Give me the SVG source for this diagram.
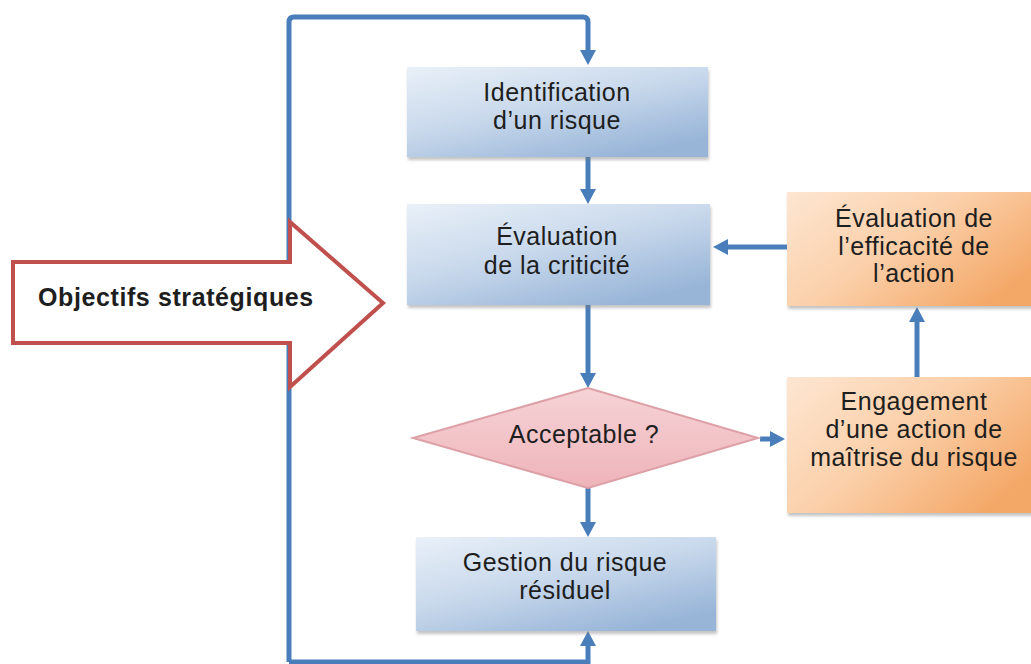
<svg xmlns="http://www.w3.org/2000/svg" width="1031" height="664" viewBox="0 0 1031 664">
  <style>
    .lbl { font-family: "Liberation Sans", Arial, sans-serif; font-size: 25px; letter-spacing: 0.5px; fill: #1e1e1e; text-anchor: middle; }
    .bold { font-weight: bold; text-anchor: start; letter-spacing: 0.6px; }
    .conn { fill: none; stroke: #4a7ebb; stroke-width: 5; marker-end: url(#ah); }
    .blue { fill: url(#gBlue); filter: url(#sh); }
    .orange { fill: url(#gOrange); filter: url(#sh); }
  </style>
  <defs>
    <linearGradient id="gBlue" x1="0" y1="0" x2="0.7" y2="1">
      <stop offset="0" stop-color="#e9f0f8"/>
      <stop offset="0.5" stop-color="#c9d9ec"/>
      <stop offset="1" stop-color="#98b5d8"/>
    </linearGradient>
    <linearGradient id="gOrange" x1="0" y1="0" x2="1" y2="0.6">
      <stop offset="0" stop-color="#fde6d2"/>
      <stop offset="0.5" stop-color="#fbd0aa"/>
      <stop offset="1" stop-color="#f4a868"/>
    </linearGradient>
    <linearGradient id="gPink" x1="0" y1="0" x2="0" y2="1">
      <stop offset="0" stop-color="#f6d3d6"/>
      <stop offset="1" stop-color="#eeb4ba"/>
    </linearGradient>
    <filter id="sh" x="-10%" y="-10%" width="120%" height="130%">
      <feDropShadow dx="1" dy="3" stdDeviation="1.5" flood-color="#7a7a7a" flood-opacity="0.45"/>
    </filter>
    <marker id="ah" markerUnits="userSpaceOnUse" markerWidth="16" markerHeight="16" refX="4" refY="8" orient="auto">
      <path d="M0,0 L15,8 L0,16 z" fill="#4a7ebb"/>
    </marker>
  </defs>

  <rect width="1031" height="664" fill="#ffffff"/>

  <g id="connectors">
    <path class="conn" d="M289,662 V22 Q289,17 294,17 H583 Q588,17 588,22 V54"/>
    <path class="conn" d="M289,662 H588 V642"/>
    <path class="conn" d="M588,157 V193"/>
    <path class="conn" d="M588,305 V377"/>
    <path class="conn" d="M588,488 V526"/>
    <path class="conn" d="M760,439 H774"/>
    <path class="conn" d="M917,377 V318"/>
    <path class="conn" d="M787,247 H724"/>
  </g>

  <g id="identification">
    <rect class="blue" x="407" y="67" width="301" height="90"/>
    <text class="lbl" x="557" y="101">Identification</text>
    <text class="lbl" x="557" y="129">d’un risque</text>
  </g>

  <g id="evaluation">
    <rect class="blue" x="407" y="204" width="303" height="101"/>
    <text class="lbl" x="557" y="245">Évaluation</text>
    <text class="lbl" x="557" y="274">de la criticité</text>
  </g>

  <g id="acceptable">
    <polygon points="413,438 588,388 758,438 588,488" fill="url(#gPink)" stroke="#dda0a6" stroke-width="2"/>
    <text class="lbl" x="584" y="443">Acceptable ?</text>
  </g>

  <g id="gestion">
    <rect class="blue" x="416" y="537" width="300" height="94"/>
    <text class="lbl" x="565" y="571">Gestion du risque</text>
    <text class="lbl" x="565" y="599">résiduel</text>
  </g>

  <g id="efficacite">
    <rect class="orange" x="787" y="192" width="260" height="114"/>
    <text class="lbl" x="914" y="227">Évaluation de</text>
    <text class="lbl" x="914" y="255">l’efficacité de</text>
    <text class="lbl" x="914" y="282">l’action</text>
  </g>

  <g id="engagement">
    <rect class="orange" x="787" y="377" width="260" height="136"/>
    <text class="lbl" x="914" y="410">Engagement</text>
    <text class="lbl" x="914" y="438">d’une action de</text>
    <text class="lbl" x="914" y="466">maîtrise du risque</text>
  </g>

  <g id="objectifs">
    <polygon points="13,262 290,262 290,222 383,303 290,387 290,343 13,343" fill="#ffffff" stroke="#c0504d" stroke-width="4" stroke-linejoin="miter"/>
    <text class="lbl bold" x="38" y="306">Objectifs stratégiques</text>
  </g>
</svg>
